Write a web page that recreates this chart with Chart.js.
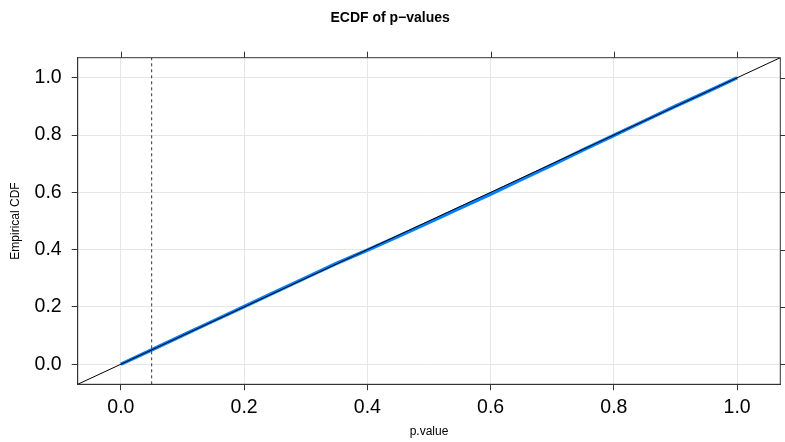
<!DOCTYPE html>
<html>
<head>
<meta charset="utf-8">
<script src="https://cdn.jsdelivr.net/npm/chart.js@4"></script>
<style>
  html, body { margin: 0; padding: 0; background: #fff; }
  #wrap { width: 785px; height: 442px; }
</style>
</head>
<body>
<div id="wrap"><canvas id="ecdf-chart"></canvas></div>
<script>
// data
var pValues = [0, 0.05, 0.1, 0.15, 0.2, 0.25, 0.3, 0.35, 0.4, 0.45, 0.5, 0.55, 0.6, 0.65, 0.7, 0.75, 0.8, 0.85, 0.9, 0.95, 1.0];
var ecdfValues = [0, 0.050, 0.101, 0.151, 0.201, 0.252, 0.302, 0.352, 0.398, 0.446, 0.495, 0.545, 0.594, 0.645, 0.696, 0.748, 0.799, 0.850, 0.901, 0.950, 1.0];
var refLine = [-0.07, 1.07];      // y = x reference line, across the panel
var cutoff = 0.05;                // dashed vertical line
var tickValues = [0, 0.2, 0.4, 0.6, 0.8, 1.0];

var axisMin = -0.07, axisMax = 1.07;
var dark = '#333333';
var gridCol = '#e6e6e6';

// frame + top/right ticks (lattice style)
var framePlugin = {
    id: 'frame',
    afterDraw: function (chart) {
        var ctx = chart.ctx, a = chart.chartArea;
        var xs = chart.scales.x, ys = chart.scales.y;
        ctx.save();
        ctx.strokeStyle = dark;
        ctx.lineWidth = 1;
        ctx.strokeRect(a.left, a.top, a.right - a.left, a.bottom - a.top);
        ctx.beginPath();
        tickValues.forEach(function (v) {
            var x = Math.round(xs.getPixelForValue(v)) + 0.5;
            ctx.moveTo(x, a.top);
            ctx.lineTo(x, a.top - 6);
            var y = Math.round(ys.getPixelForValue(v)) + 0.5;
            ctx.moveTo(a.right, y);
            ctx.lineTo(a.right + 6, y);
        });
        ctx.stroke();
        ctx.restore();
    }
};

var ecdfPoints = pValues.map(function (p, i) { return {x: p, y: ecdfValues[i]}; });
var refPoints = refLine.map(function (v) { return {x: v, y: v}; });
var cutPoints = [{x: cutoff, y: axisMin}, {x: cutoff, y: axisMax}];

new Chart(document.getElementById('ecdf-chart'), {
    type: 'scatter',
    data: {
        datasets: [
            {
                label: 'ecdf',
                data: ecdfPoints,
                showLine: true,
                borderColor: '#0080ff',
                borderWidth: 3.5,
                pointRadius: 0,
                order: 3
            },
            {
                label: 'y = x',
                data: refPoints,
                showLine: true,
                borderColor: '#000000',
                borderWidth: 1,
                pointRadius: 0,
                order: 1
            },
            {
                label: 'cutoff',
                data: cutPoints,
                showLine: true,
                borderColor: dark,
                borderWidth: 1,
                borderDash: [3, 3],
                pointRadius: 0,
                order: 2
            }
        ]
    },
    options: {
        responsive: true,
        maintainAspectRatio: false,
        animation: false,
        layout: { padding: { left: 0, right: 4.7, top: 0, bottom: 0 } },
        plugins: {
            legend: { display: false },
            tooltip: { enabled: false },
            title: {
                display: true,
                text: 'ECDF of p\u2212values',
                color: '#000',
                font: { family: 'Liberation Sans, Arial, sans-serif', size: 14, weight: 'bold' },
                padding: { top: 10, bottom: 30.9 }
            }
        },
        scales: {
            x: {
                type: 'linear',
                min: axisMin,
                max: axisMax,
                afterBuildTicks: function (s) { s.ticks = tickValues.map(function (v) { return {value: v}; }); },
                afterFit: function (s) { s.height = 57.7; },
                ticks: {
                    color: '#000',
                    padding: 6,
                    font: { family: 'Liberation Sans, Arial, sans-serif', size: 19.5 },
                    callback: function (v) { return v.toFixed(1); }
                },
                grid: { color: gridCol, tickColor: dark, tickLength: 6, drawTicks: true },
                border: { display: true, color: dark },
                title: {
                    display: true,
                    text: 'p.value',
                    color: '#000',
                    font: { family: 'Liberation Sans, Arial, sans-serif', size: 12 },
                    padding: { top: 0, bottom: 3 }
                }
            },
            y: {
                type: 'linear',
                min: axisMin,
                max: axisMax,
                afterBuildTicks: function (s) { s.ticks = tickValues.map(function (v) { return {value: v}; }); },
                afterFit: function (s) { s.width = 77.7; },
                ticks: {
                    color: '#000',
                    padding: 10,
                    font: { family: 'Liberation Sans, Arial, sans-serif', size: 19.5 },
                    callback: function (v) { return v.toFixed(1); }
                },
                grid: { color: gridCol, tickColor: dark, tickLength: 6, drawTicks: true },
                border: { display: true, color: dark },
                title: {
                    display: true,
                    text: 'Empirical CDF',
                    color: '#000',
                    font: { family: 'Liberation Sans, Arial, sans-serif', size: 12 },
                    padding: { top: 8, bottom: 0 }
                }
            }
        }
    },
    plugins: [framePlugin]
});
</script>
</body>
</html>
